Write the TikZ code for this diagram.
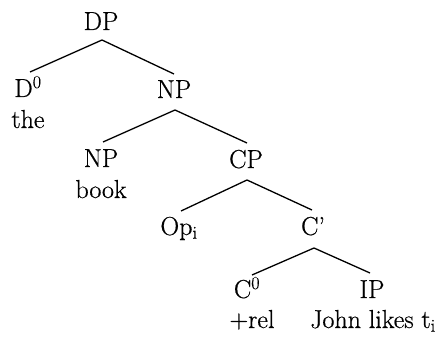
\documentclass[tikz,border=0pt]{standalone}
\usepackage{fontspec}
\setmainfont{Latin Modern Roman}[FakeBold=0.6]
\usetikzlibrary{calc}
\begin{document}
\begin{tikzpicture}[x=1pt,y=-1pt,
  lbl/.style={anchor=base,inner sep=0pt,font=\fontsize{26}{30}\selectfont\addfontfeatures{FakeBold=0.6}},
  branch/.style={line width=1.3pt,line join=round}]
\useasboundingbox (0,0) rectangle (440,337);
% category labels
\node[lbl] (DP)  at (101,30)  {DP};
\node[lbl] (D0)  at (28,97)   {D\textsuperscript{0}};
\node[lbl] (NPa) at (174,98)  {NP};
\node[lbl] (NPb) at (101,167) {NP};
\node[lbl] (CP)  at (246,168) {CP};
\node[lbl] (Op)  at (179,235) {Op\textsubscript{i}};
\node[lbl] (Cb)  at (313,235) {C'};
\node[lbl] (C0)  at (247,298) {C\textsuperscript{0}};
\node[lbl] (IP)  at (372,298) {IP};
% words
\node[lbl] (the)  at (28,128)  {the};
\node[lbl] (book) at (101,198) {book};
\node[lbl] (rel)  at (252,328) {+rel};
\node[lbl] (john) at (373,328) {John likes t\textsubscript{i}};
% branches
\draw[branch] ([yshift=25pt,xshift=2pt]D0.base) -- ([yshift=-10pt,xshift=1pt]DP.base) -- ([yshift=24pt]NPa.base);
\draw[branch] ([yshift=25pt,xshift=2pt]NPb.base) -- ([yshift=-12pt,xshift=1pt]NPa.base) -- ([yshift=25pt,xshift=1pt]CP.base);
\draw[branch] ([yshift=24pt,xshift=2pt]Op.base) -- ([yshift=-12pt,xshift=1pt]CP.base) -- ([yshift=25pt,xshift=-1pt]Cb.base);
\draw[branch] ([yshift=23pt,xshift=5pt]C0.base) -- ([yshift=-13pt,xshift=1pt]Cb.base) -- ([yshift=25pt,xshift=-2pt]IP.base);
\end{tikzpicture}
\end{document}
